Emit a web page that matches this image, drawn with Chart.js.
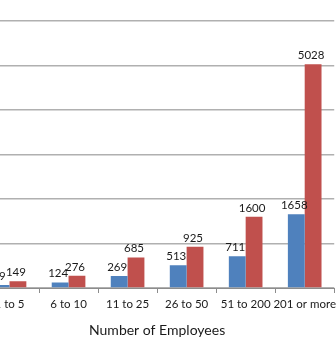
<!DOCTYPE html>
<html>
<head>
<meta charset="utf-8">
<script src="https://cdn.jsdelivr.net/npm/chart.js@4/dist/chart.umd.min.js"></script>
<style>
  html, body { margin: 0; padding: 0; background: #fff; overflow: hidden; }
  #wrap { position: relative; width: 336px; height: 350px; overflow: hidden; }
  #c { position: absolute; left: -20px; top: 0; }
</style>
</head>
<body>
<div id="wrap"><canvas id="c" width="360" height="350"></canvas></div>
<script>
const categories = ['1 to 5', '6 to 10', '11 to 25', '26 to 50', '51 to 200', '201 or more'];
const seriesA = [69, 124, 269, 513, 711, 1658];
const seriesB = [149, 276, 685, 925, 1600, 5028];
const axisTitle = 'Number of Employees';

const FONT = 'Lato, "Open Sans", sans-serif';

// Writes each bar's value just above its top
const valueLabels = {
  id: 'valueLabels',
  afterDatasetsDraw(chart) {
    const ctx = chart.ctx;
    ctx.save();
    ctx.font = '11.5px ' + FONT;
    ctx.fillStyle = '#1a1a1a';
    ctx.textAlign = 'center';
    ctx.textBaseline = 'bottom';
    chart.data.datasets.forEach((ds, di) => {
      const meta = chart.getDatasetMeta(di);
      meta.data.forEach((bar, i) => {
        ctx.fillText(String(ds.data[i]), bar.x - 2, bar.y - 3);
      });
    });
    ctx.restore();
  }
};

new Chart(document.getElementById('c'), {
  type: 'bar',
  data: {
    labels: categories,
    datasets: [
      { data: seriesA, backgroundColor: '#4F81BD', borderWidth: 0 },
      { data: seriesB, backgroundColor: '#C0504D', borderWidth: 0 }
    ]
  },
  options: {
    responsive: false,
    animation: false,
    layout: { padding: { top: 21, left: 0, right: 0, bottom: 0 } },
    plugins: {
      legend: { display: false },
      tooltip: { enabled: false },
      title: { display: false }
    },
    datasets: {
      bar: { categoryPercentage: 0.57, barPercentage: 1.0 }
    },
    scales: {
      x: {
        grid: {
          drawOnChartArea: false,
          drawTicks: true,
          tickLength: 5,
          color: '#8c8c8c',
          offset: true
        },
        border: { display: true, color: '#8c8c8c', width: 1 },
        ticks: {
          font: { family: FONT, size: 11.5 },
          color: '#1a1a1a',
          padding: 4,
          maxRotation: 0,
          autoSkip: false
        },
        title: {
          display: true,
          text: axisTitle,
          font: { family: FONT, size: 14 },
          color: '#1a1a1a',
          padding: { top: 4, bottom: 11 }
        },
        afterFit(scale) { scale.height = 62; }
      },
      y: {
        min: 0,
        max: 6000,
        ticks: { display: false, stepSize: 1000 },
        border: { display: false },
        grid: { drawTicks: false, color: '#b0b0b0', lineWidth: 1.5 },
        afterFit(scale) { scale.width = 0; }
      }
    }
  },
  plugins: [valueLabels]
});
</script>
</body>
</html>
